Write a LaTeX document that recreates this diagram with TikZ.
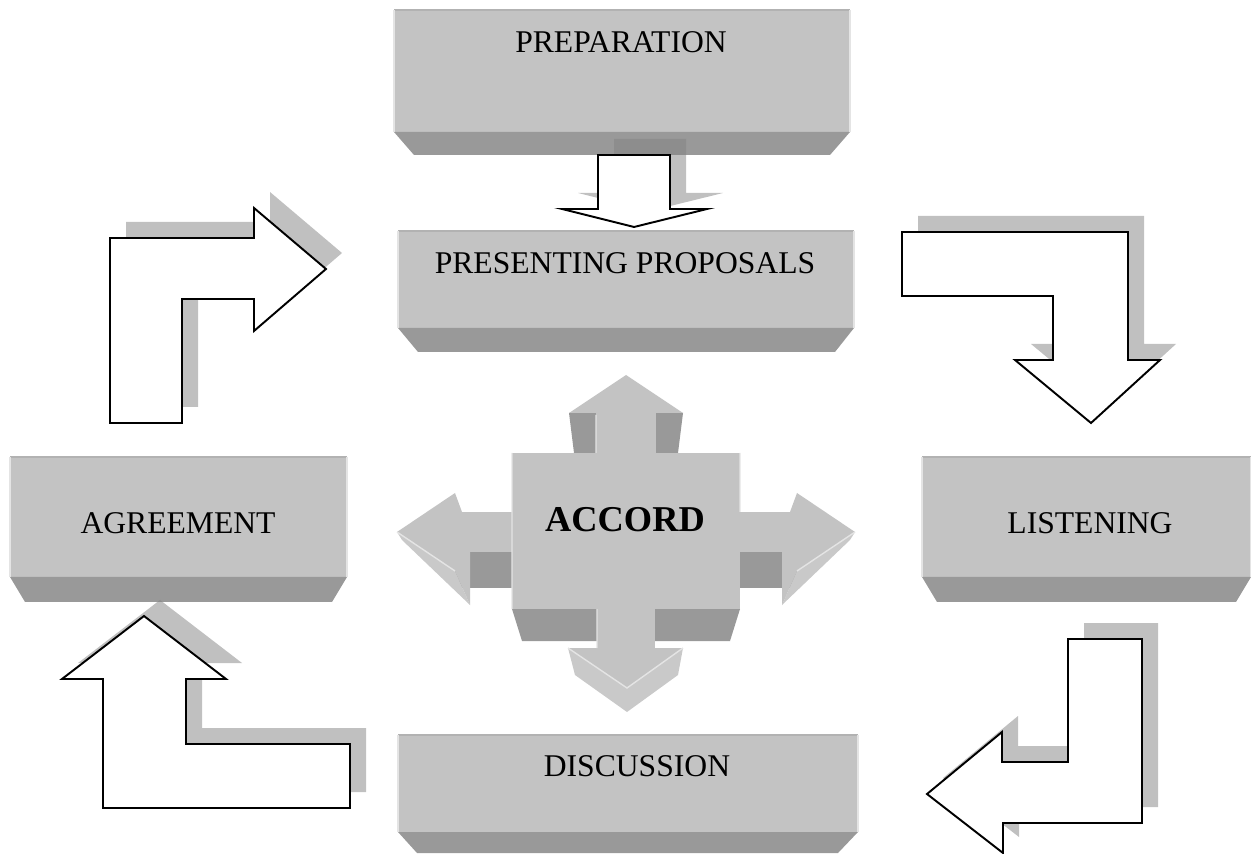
\documentclass[tikz,border=0pt]{standalone}
\usepackage{fontspec}
\setmainfont{Liberation Serif}
\definecolor{facegray}{RGB}{195,195,195}
\definecolor{bevelgray}{RGB}{153,153,153}
\definecolor{rimgray}{RGB}{178,178,178}
\definecolor{litegray}{RGB}{228,228,228}
\definecolor{headgray}{RGB}{201,201,201}
\definecolor{castgray}{RGB}{131,131,131}
\tikzset{
  face/.style    = {fill=facegray},
  bevel/.style   = {fill=bevelgray},
  facet/.style   = {fill=headgray},
  rim/.style     = {draw=litegray, line width=0.8pt},
  caption/.style = {font=\fontsize{18}{21}\selectfont, inner sep=0pt},
  block/.style={
    draw        = black,
    fill        = white,
    line width  = 1.1pt,
    line join   = miter,
    preaction   = {draw=none, fill=castgray, fill opacity=0.51,
                   transform canvas={shift={(16,-16)}}}}
}
% face x1,y1,x2,y2 -- bevel bottom x1,x2,y
\newcommand\slab[7]{%
  \fill[face]  (#1,#2) rectangle (#3,#4);
  \fill[bevel] (#1,#4) -- (#3,#4) -- (#6,#7) -- (#5,#7) -- cycle;
  \draw[rimgray, line width=0.8pt] (#1,#2) -- (#3,#2);
  \draw[rim] (#1,#2) -- (#1,#4) (#3,#2) -- (#3,#4);
}

\begin{document}
\begin{tikzpicture}[x=0.02cm, y=-0.02cm]
\useasboundingbox (0,0) rectangle (1251,854);

% the five stages
\slab{394}{10}{850}{132}{414}{830}{155}
\slab{398}{231}{854}{328}{418}{835}{352}
\slab{10}{457}{347}{577}{25}{332}{602}
\slab{922}{457}{1251}{577}{937}{1236}{602}
\slab{398}{735}{858}{832}{417}{838}{853}

\node[caption] (prep)   at (621,42)  {PREPARATION};
\node[caption] (prop)   at (625,263) {PRESENTING PROPOSALS};
\node[caption] (agree)  at (178,523) {AGREEMENT};
\node[caption] (listen) at (1090,523) {LISTENING};
\node[caption] (discus) at (637,766) {DISCUSSION};

% block arrows of the cycle
\path[block] (598,155) -- (670,155) -- (670,209) -- (707,209) -- (634,227)
  -- (562,209) -- (598,209) -- cycle;
\path[block] (902,232) -- (1128,232) -- (1128,360) -- (1160,360) -- (1091,423)
  -- (1015,360) -- (1053,360) -- (1053,296) -- (902,296) -- cycle;
\path[block] (1068,639) -- (1142,639) -- (1142,823) -- (1003,823) -- (1003,853)
  -- (927,794) -- (1002,732) -- (1002,762) -- (1068,762) -- cycle;
\path[block] (144,616) -- (226,679) -- (186,679) -- (186,744) -- (350,744)
  -- (350,808) -- (103,808) -- (103,679) -- (62,679) -- cycle;
\path[block] (110,423) -- (110,238) -- (254,238) -- (254,208) -- (326,269)
  -- (254,331) -- (254,299) -- (182,299) -- (182,423) -- cycle;

% accord cross
\fill[bevel] (569,413) -- (596,413) -- (596,453) -- (574,453) -- cycle;
\fill[bevel] (683,413) -- (656,413) -- (656,453) -- (678,453) -- cycle;
\fill[bevel] (455,552) rectangle (512,588);
\fill[bevel] (740,552) rectangle (797,588);
\fill[bevel] (512,609) -- (740,609) -- (730,641) -- (522,641) -- cycle;

\fill[face] (512,453) rectangle (740,609);
\fill[face] (596,413) rectangle (656,453);
\fill[face] (569,413) -- (626,375) -- (683,413) -- cycle;
\fill[face] (455,512) rectangle (512,552);
\fill[face] (740,512) rectangle (797,552);
\fill[face] (597,609) rectangle (655,648);

\fill[facet] (397,532) -- (455,571) -- (470,605) -- (402,540) -- cycle;
\fill[face]  (397,532) -- (455,493) -- (462,512) -- (470,552) -- (470,605)
  -- (455,571) -- cycle;
\fill[facet] (855,532) -- (797,571) -- (782,605) -- (850,540) -- cycle;
\fill[face]  (855,532) -- (797,493) -- (790,512) -- (782,552) -- (782,605)
  -- (797,571) -- cycle;
\fill[facet] (568,648) -- (627,688) -- (683,648) -- (678,675) -- (627,712)
  -- (575,675) -- cycle;
\fill[face]  (568,648) -- (683,648) -- (627,688) -- cycle;

\draw[rim] (596,415) -- (596,453) (597,609) -- (597,648)
  (512,453) -- (512,609) (740,453) -- (740,512)
  (397,532) -- (455,571) (568,648) -- (627,688) -- (683,648)
  (855,532) -- (797,571);

\node[font=\fontsize{20.7}{24}\selectfont\bfseries, inner sep=0pt]
  (accord) at (625,520) {ACCORD};

\end{tikzpicture}
\end{document}
